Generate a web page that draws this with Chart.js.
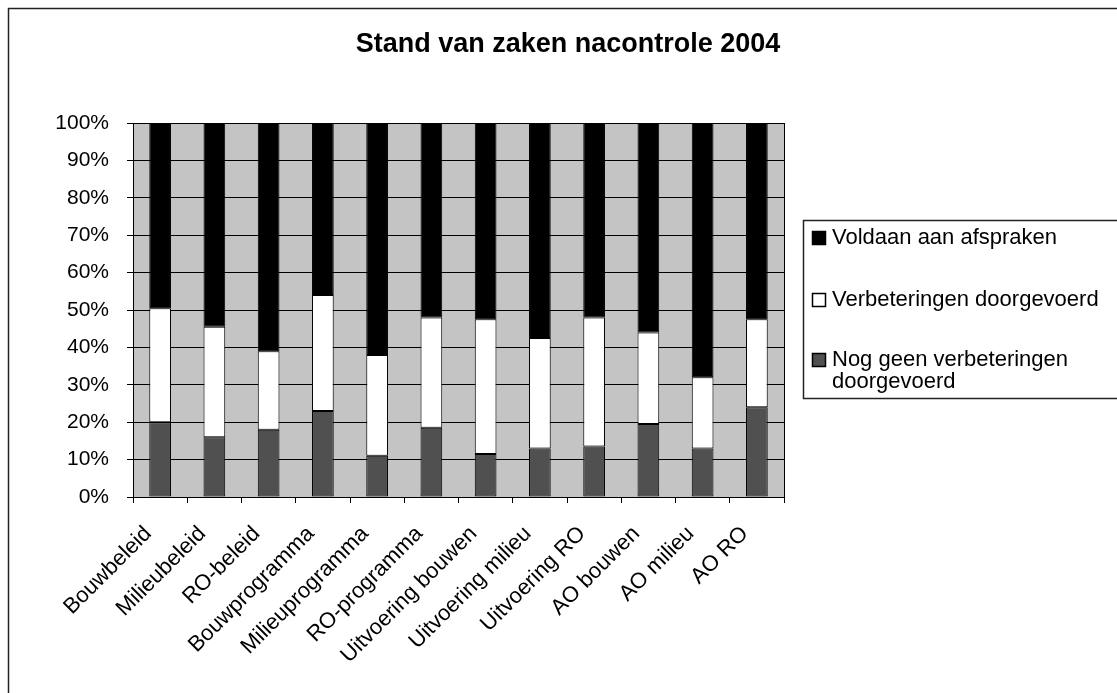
<!doctype html>
<html>
<head>
    <meta charset="utf-8">
    <title>Stand van zaken nacontrole 2004</title>
    <script src="https://cdn.jsdelivr.net/npm/chart.js@4.4.1/dist/chart.umd.min.js"></script>
    <style>
        html, body { margin: 0; padding: 0; background: #fff; }
        .chartContainer { width: 1117px; height: 693px; }
    </style>
</head>
<body>
<div class="chartContainer">
    <canvas id="standChart"></canvas>
</div>
<script>
// categories (x axis)
var categories = ['Bouwbeleid', 'Milieubeleid', 'RO-beleid', 'Bouwprogramma', 'Milieuprogramma',
    'RO-programma', 'Uitvoering bouwen', 'Uitvoering milieu', 'Uitvoering RO', 'AO bouwen', 'AO milieu', 'AO RO'];
// series values in percent (bottom to top)
var nogGeen       = [20,   16,   18, 23, 11, 18.5, 11.5, 13,   13.5, 19.5, 13, 24];
var verbeteringen = [30.5, 29.5, 21, 31, 27, 29.5, 36,   29.5, 34.5, 24.5, 19, 23.5];
var voldaan       = [49.5, 54.5, 61, 46, 62, 52,   52.5, 57.5, 52,   56,   68, 52.5];
// y tick labels
var yTickLabels = ['0%', '10%', '20%', '30%', '40%', '50%', '60%', '70%', '80%', '90%', '100%'];

var FONT = '"Liberation Sans", Arial, sans-serif';

// grey plot background, outer frame, title
var backgroundPlugin = {
    id: 'backgroundPlugin',
    beforeDraw: function(chart) {
        var ctx = chart.ctx, a = chart.chartArea;
        ctx.save();
        ctx.fillStyle = '#fff';
        ctx.fillRect(0, 0, chart.width, chart.height);
        ctx.fillStyle = '#c4c4c4';
        ctx.fillRect(a.left, a.top, a.right - a.left, a.bottom - a.top);
        // outer frame (right and bottom edges fall outside the picture)
        ctx.strokeStyle = '#222';
        ctx.lineWidth = 1.5;
        ctx.beginPath();
        ctx.moveTo(8.5, chart.height);
        ctx.lineTo(8.5, 8.5);
        ctx.lineTo(chart.width, 8.5);
        ctx.stroke();
        // title
        ctx.fillStyle = '#000';
        ctx.font = 'bold 27px ' + FONT;
        ctx.textAlign = 'center';
        ctx.textBaseline = 'middle';
        ctx.fillText('Stand van zaken nacontrole 2004', 568, 45);
        ctx.restore();
    },
    afterDraw: function(chart) {
        var ctx = chart.ctx, a = chart.chartArea;
        ctx.save();
        // right border of plot area
        ctx.strokeStyle = '#000';
        ctx.lineWidth = 1;
        ctx.beginPath();
        ctx.moveTo(Math.round(a.right) + 0.5, a.top);
        ctx.lineTo(Math.round(a.right) + 0.5, a.bottom);
        ctx.stroke();

        // legend box
        ctx.strokeStyle = '#222';
        ctx.lineWidth = 1.5;
        ctx.strokeRect(803.5, 220.5, 400, 178);
        ctx.font = '22px ' + FONT;
        ctx.textAlign = 'left';
        ctx.textBaseline = 'middle';
        var ys = [238, 300, 360];
        var ds = chart.data.datasets.slice().reverse();
        ds.forEach(function(d, i) {
            var y = ys[i];
            ctx.fillStyle = d.backgroundColor;
            ctx.fillRect(812, y - 7, 14, 14);
            ctx.strokeStyle = '#000';
            ctx.lineWidth = 1.5;
            ctx.strokeRect(812.5, y - 6.5, 13, 13);
            // simple word wrap
            var words = d.label.split(' '), line = '', lines = [];
            words.forEach(function(w) {
                var test = line ? line + ' ' + w : w;
                if (ctx.measureText(test).width > 278 && line) { lines.push(line); line = w; }
                else line = test;
            });
            lines.push(line);
            ctx.fillStyle = '#000';
            lines.forEach(function(l, j) { ctx.fillText(l, 832, y + j * 22); });
        });
        ctx.restore();
    }
};

var ctx = document.getElementById('standChart');
var standChart = new Chart(ctx, {
    type: 'bar',
    data: {
        labels: categories,
        datasets: [
            { label: 'Nog geen verbeteringen doorgevoerd', data: nogGeen, backgroundColor: '#505050' },
            { label: 'Verbeteringen doorgevoerd', data: verbeteringen, backgroundColor: '#ffffff' },
            { label: 'Voldaan aan afspraken', data: voldaan, backgroundColor: '#000000' }
        ]
    },
    options: {
        responsive: true,
        maintainAspectRatio: false,
        animation: false,
        devicePixelRatio: 1,
        datasets: {
            bar: {
                categoryPercentage: 1,
                barPercentage: 0.4,
                borderColor: '#000',
                borderWidth: 1,
                borderSkipped: false
            }
        },
        layout: {
            padding: { top: 123, right: 333, left: 0, bottom: 0 }
        },
        scales: {
            x: {
                stacked: true,
                afterFit: function(scale) { scale.height = 196; },
                grid: {
                    display: true,
                    drawOnChartArea: false,
                    drawTicks: true,
                    tickLength: 6,
                    color: '#000',
                    offset: true
                },
                border: { color: '#000', width: 1 },
                ticks: {
                    autoSkip: false,
                    minRotation: 45,
                    maxRotation: 45,
                    color: '#000',
                    padding: 18,
                    labelOffset: -12,
                    font: { family: FONT, size: 22 }
                }
            },
            y: {
                stacked: true,
                min: 0,
                max: 100,
                afterFit: function(scale) { scale.width = 133; },
                grid: {
                    color: '#000',
                    tickLength: 6,
                    lineWidth: 1
                },
                border: { color: '#000', width: 1 },
                ticks: {
                    stepSize: 10,
                    color: '#000',
                    padding: 18,
                    font: { family: FONT, size: 21 },
                    callback: function(value, index) { return yTickLabels[index]; }
                }
            }
        },
        plugins: {
            legend: { display: false },
            title: { display: false },
            tooltip: { enabled: false }
        }
    },
    plugins: [backgroundPlugin]
});
</script>
</body>
</html>
